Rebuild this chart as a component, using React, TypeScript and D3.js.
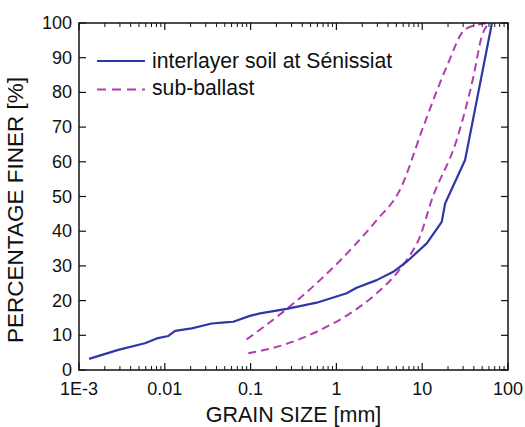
import React from "react";
import * as d3 from "d3";

// Grain-size distribution: interlayer soil vs. sub-ballast envelope
const interlayerSize = [0.00131, 0.00287, 0.00587, 0.00805, 0.011, 0.0132, 0.0206, 0.0352, 0.0504, 0.0628, 0.098, 0.129, 0.264, 0.589, 1.32, 1.72, 2.95, 4.6, 6.6, 11.3, 16.9, 18.5, 31.6, 65];
const interlayerFiner = [3.2, 5.8, 7.7, 9.1, 9.8, 11.3, 12.0, 13.4, 13.7, 13.9, 15.6, 16.3, 17.6, 19.4, 22.1, 23.7, 25.9, 28.3, 31.2, 36.5, 42.7, 48, 60.5, 100];

const subBallastFineSize = [0.09, 0.264, 0.644, 1.57, 2.95, 5.5, 10.3, 19.3, 32.4, 60];
const subBallastFineFiner = [8.8, 17.6, 25.9, 35.5, 43.2, 51.9, 70.1, 87.4, 98.4, 100];

const subBallastCoarseSize = [0.094, 0.24, 0.644, 1.44, 2.95, 5.05, 6.6, 9.4, 12.9, 25.2, 39.5, 49.3, 60];
const subBallastCoarseFiner = [4.8, 7.2, 11.5, 16.3, 22.1, 27.9, 31.7, 38.4, 49, 66.3, 84.5, 96, 100];

const xTickValues = [0.001, 0.01, 0.1, 1, 10, 100];
const xTickLabels = ["1E-3", "0.01", "0.1", "1", "10", "100"];
const yTickValues = [0, 10, 20, 30, 40, 50, 60, 70, 80, 90, 100];

const legendLabels = ["interlayer soil at Sénissiat", "sub-ballast"];

const BLUE = "#2f37a8";
const MAGENTA = "#b23db0";
const FONT = "'Liberation Sans', Arial, Helvetica, sans-serif";

export default function App() {
  const W = 525;
  const H = 427;
  const left = 79;
  const right = 508;
  const top = 23;
  const bottom = 370;

  const x = d3.scaleLog().domain([0.001, 100]).range([left, right]);
  const y = d3.scaleLinear().domain([0, 100]).range([bottom, top]);

  const line = d3
    .line<[number, number]>()
    .x((d) => x(d[0]))
    .y((d) => y(d[1]));
  const smooth = d3
    .line<[number, number]>()
    .x((d) => x(d[0]))
    .y((d) => y(d[1]))
    .curve(d3.curveMonotoneX);

  const zip = (a: number[], b: number[]) => a.map((v, i) => [v, b[i]] as [number, number]);

  // minor log ticks 2..9 per decade
  const minorTicks: number[] = [];
  for (let e = -3; e < 2; e++) {
    for (let m = 2; m <= 9; m++) minorTicks.push(m * Math.pow(10, e));
  }

  const majorLen = 7;
  const minorLen = 4;

  return (
    <svg
      width={W}
      height={H}
      style={{ position: "absolute", left: 0, top: 0, background: "#fff" }}
      fontFamily={FONT}
    >
      <rect x={0} y={0} width={W} height={H} fill="#fff" />

      {/* data curves */}
      <path
        d={smooth(zip(subBallastFineSize, subBallastFineFiner)) || ""}
        fill="none"
        stroke={MAGENTA}
        strokeWidth={2}
        strokeDasharray="8,5"
      />
      <path
        d={smooth(zip(subBallastCoarseSize, subBallastCoarseFiner)) || ""}
        fill="none"
        stroke={MAGENTA}
        strokeWidth={2}
        strokeDasharray="8,5"
      />
      <path
        d={line(zip(interlayerSize, interlayerFiner)) || ""}
        fill="none"
        stroke={BLUE}
        strokeWidth={2.2}
        strokeLinejoin="round"
      />

      {/* frame */}
      <rect
        x={left}
        y={top}
        width={right - left}
        height={bottom - top}
        fill="none"
        stroke="#111"
        strokeWidth={1.5}
      />

      {/* x ticks (bottom and top, inward) */}
      {xTickValues.map((v) => (
        <g key={"xM" + v}>
          <line x1={x(v)} x2={x(v)} y1={bottom} y2={bottom - majorLen} stroke="#111" strokeWidth={1.2} />
          <line x1={x(v)} x2={x(v)} y1={top} y2={top + majorLen} stroke="#111" strokeWidth={1.2} />
        </g>
      ))}
      {minorTicks.map((v) => (
        <g key={"xm" + v}>
          <line x1={x(v)} x2={x(v)} y1={bottom} y2={bottom - minorLen} stroke="#111" strokeWidth={1} />
          <line x1={x(v)} x2={x(v)} y1={top} y2={top + minorLen} stroke="#111" strokeWidth={1} />
        </g>
      ))}

      {/* y ticks (left and right, inward) */}
      {yTickValues.map((v) => (
        <g key={"y" + v}>
          <line x1={left} x2={left + majorLen} y1={y(v)} y2={y(v)} stroke="#111" strokeWidth={1.2} />
          <line x1={right} x2={right - majorLen} y1={y(v)} y2={y(v)} stroke="#111" strokeWidth={1.2} />
        </g>
      ))}

      {/* tick labels */}
      {yTickValues.map((v) => (
        <text key={"yl" + v} x={left - 7} y={y(v) + 6} textAnchor="end" fontSize={18} fill="#111">
          {v}
        </text>
      ))}
      {xTickValues.map((v, i) => (
        <text key={"xl" + v} x={x(v)} y={395} textAnchor="middle" fontSize={18} fill="#111">
          {xTickLabels[i]}
        </text>
      ))}

      {/* axis titles */}
      <text x={(left + right) / 2} y={422} textAnchor="middle" fontSize={21.5} fill="#111">
        GRAIN SIZE [mm]
      </text>
      <text
        transform={`translate(23, 210) rotate(-90)`}
        textAnchor="middle"
        fontSize={22.5}
        fill="#111"
      >
        PERCENTAGE FINER [%]
      </text>

      {/* legend */}
      <line x1={97} x2={145} y1={61} y2={61} stroke={BLUE} strokeWidth={2} />
      <text x={152} y={68} fontSize={21.2} fill="#111">
        {legendLabels[0]}
      </text>
      <line x1={97} x2={145} y1={89.5} y2={89.5} stroke={MAGENTA} strokeWidth={2} strokeDasharray="9,6" />
      <text x={152} y={95} fontSize={21.2} fill="#111">
        {legendLabels[1]}
      </text>
    </svg>
  );
}
